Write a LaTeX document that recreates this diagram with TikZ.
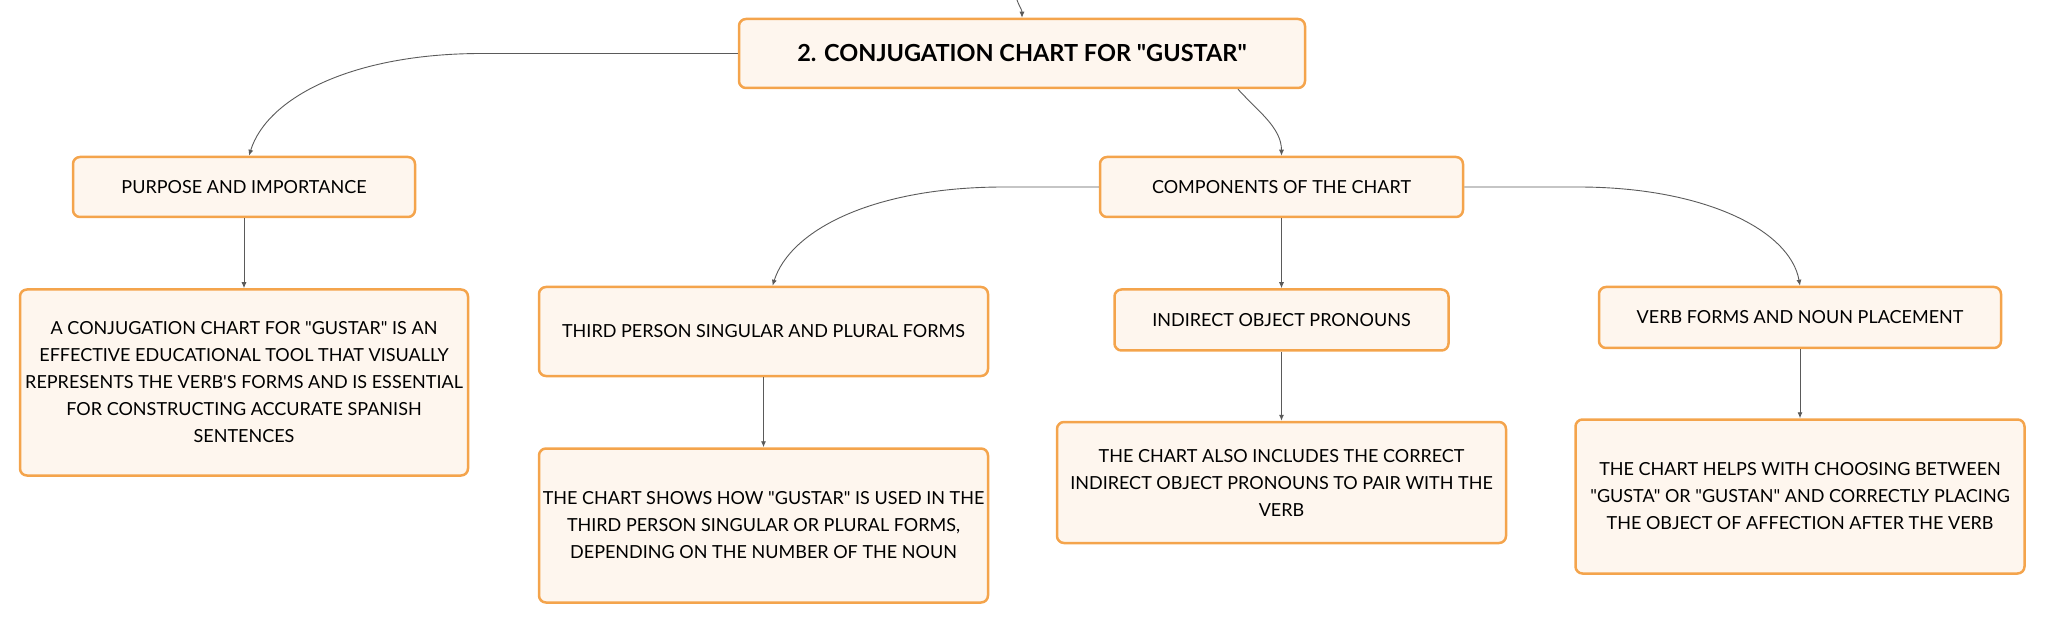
\documentclass[tikz,border=0pt]{standalone}
\usepackage{fontspec}
\setmainfont{Lato}[Ligatures=TeXOff]
\usetikzlibrary{positioning,arrows.meta}

\definecolor{boxborder}{HTML}{F4A44C}
\definecolor{boxfill}{HTML}{FEF6EE}
\definecolor{linkgray}{HTML}{5A5A5A}

\begin{document}
\begin{tikzpicture}[
  x=1pt, y=1pt,
  font=\fontsize{18}{27}\selectfont,
  >=Latex,
  box/.style={draw=boxborder, fill=boxfill, line width=2.5pt, rounded corners=7pt, align=center, inner sep=0pt},
  title/.style={box, font=\fontsize{23.5}{28}\selectfont\bfseries},
  link/.style={-{Latex[length=6pt,width=5pt]}, line width=0.9pt, draw=linkgray},
  node distance=70pt
]
\useasboundingbox (0,0) rectangle (2046,-620);

% Core nodes
\node[title, minimum width=566pt, minimum height=69pt] (root) at (1022,-53.5) {2. CONJUGATION CHART FOR "GUSTAR"};

\node[box, minimum width=342pt, minimum height=60pt] (purpose) at (244,-187) {PURPOSE AND IMPORTANCE};
\node[box, minimum width=363pt, minimum height=60pt] (parts) at (1281.5,-187) {COMPONENTS OF THE CHART};

\node[box, minimum width=449pt, minimum height=89pt] (third) at (763.5,-331.5) {THIRD PERSON SINGULAR AND PLURAL FORMS};
\node[box, minimum width=334pt, minimum height=61pt, below=70pt of parts] (pronouns) {INDIRECT OBJECT PRONOUNS};
\node[box, minimum width=402pt, minimum height=61pt] (verbs) at (1800,-317.5) {VERB FORMS AND NOUN PLACEMENT};

% Detail boxes
\node[box, minimum width=448pt, minimum height=186pt, below=70pt of purpose] (purposetext) {A CONJUGATION CHART FOR "GUSTAR" IS AN\\EFFECTIVE EDUCATIONAL TOOL THAT VISUALLY\\REPRESENTS THE VERB'S FORMS AND IS ESSENTIAL\\FOR CONSTRUCTING ACCURATE SPANISH\\SENTENCES};
\node[box, minimum width=449pt, minimum height=154pt, below=70pt of third] (thirdtext) {THE CHART SHOWS HOW "GUSTAR" IS USED IN THE\\THIRD PERSON SINGULAR OR PLURAL FORMS,\\DEPENDING ON THE NUMBER OF THE NOUN};
\node[box, minimum width=449pt, minimum height=121pt, below=69pt of pronouns] (pronounstext) {THE CHART ALSO INCLUDES THE CORRECT\\INDIRECT OBJECT PRONOUNS TO PAIR WITH THE\\VERB};
\node[box, minimum width=449pt, minimum height=154pt, below=69pt of verbs] (verbstext) {THE CHART HELPS WITH CHOOSING BETWEEN\\"GUSTA" OR "GUSTAN" AND CORRECTLY PLACING\\THE OBJECT OF AFFECTION AFTER THE VERB};

% Incoming link from above
\coordinate (up) at (1017,0);
\draw[link] (up) .. controls +(3,-8) and +(0,8) .. (root.north);

% Branch links
\draw[link] (root.west) -- ++(-256,0) .. controls +(-130,0) and +(18,58) .. ([xshift=5pt]purpose.north);
\draw[link] ([xshift=216pt]root.south) .. controls +(20,-22) and +(0,28) .. (parts.north);
\draw[link] (parts.west) -- ++(-95,0) .. controls +(-130,0) and +(18,56) .. ([xshift=9pt]third.north);
\draw[link] (parts.east) -- ++(114,0) .. controls +(125,0) and +(-10,56) .. (verbs.north);

% Detail links
\draw[link] (purpose) -- (purposetext);
\draw[link] (third) -- (thirdtext);
\draw[link] (parts) -- (pronouns);
\draw[link] (pronouns) -- (pronounstext);
\draw[link] (verbs) -- (verbstext);

\end{tikzpicture}
\end{document}
